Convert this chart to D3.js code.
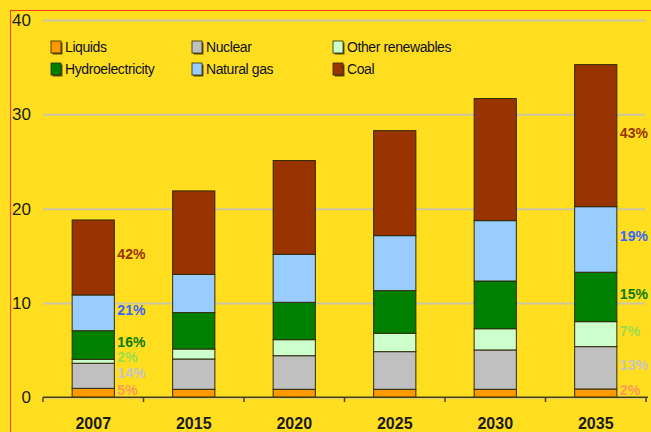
<!DOCTYPE html>
<html>
<head>
<meta charset="utf-8">
<script src="https://cdn.jsdelivr.net/npm/d3@7"></script>
<style>
  html, body { margin: 0; padding: 0; background: #fede1e; }
  svg { display: block; font-family: "Liberation Sans", Arial, sans-serif; }
</style>
</head>
<body>
<svg id="chart" width="651" height="432"></svg>
<script>
// data (0..40 scale)
const years = ["2007", "2015", "2020", "2025", "2030", "2035"];
const series = ["Liquids", "Nuclear", "Other renewables", "Hydroelectricity", "Natural gas", "Coal"];
const liquids = [0.95, 0.85, 0.85, 0.85, 0.85, 0.88];
const nuclear = [2.66, 3.21, 3.56, 3.99, 4.17, 4.49];
const otherRenewables = [0.42, 1.06, 1.70, 1.95, 2.25, 2.65];
const hydro = [3.03, 3.86, 3.96, 4.52, 5.06, 5.24];
const naturalGas = [3.79, 4.05, 5.09, 5.83, 6.40, 6.95];
const coal = [7.95, 8.85, 9.94, 11.13, 12.94, 15.06];
const share2007 = ["5%", "14%", "2%", "16%", "21%", "42%"];
const share2035 = ["2%", "13%", "7%", "15%", "19%", "43%"];
const yTicks = [0, 10, 20, 30, 40];

const colors = ["#ff9900", "#c0c0c0", "#ccffcc", "#008000", "#99ccff", "#993300"];
const labelColors = ["#ff9a5a", "#c6c6c6", "#9edc4a", "#0a7a0a", "#3366ff", "#993300"];

const values = [liquids, nuclear, otherRenewables, hydro, naturalGas, coal];
const table = years.map((yr, i) => {
  const row = { year: yr };
  series.forEach((s, j) => row[s] = values[j][i]);
  return row;
});
const stacked = d3.stack().keys(series)(table);

const svg = d3.select("#chart");

// red frame
svg.append("rect")
  .attr("x", 10.5).attr("y", 10.5)
  .attr("width", 700).attr("height", 500)
  .attr("fill", "none").attr("stroke", "#ff3a10").attr("stroke-width", 1);

const x = d3.scaleBand().domain(years).range([43, 646])
  .paddingInner(0.58).paddingOuter(0.29);
const y = d3.scaleLinear().domain([0, 40]).range([397.3, 20]);

// gridlines + y labels
const yAxis = svg.append("g")
  .attr("transform", "translate(43,0)")
  .call(d3.axisLeft(y).tickValues(yTicks).tickSize(-602).tickPadding(12));
yAxis.select(".domain").remove();
yAxis.selectAll(".tick line").attr("stroke", "#cdc6a4").attr("stroke-width", 2);
yAxis.selectAll(".tick text")
  .attr("fill", "#1a1a10").attr("font-size", 17)
  .style("font-family", "Liberation Sans, Arial, sans-serif");

// bars
const layers = svg.append("g").selectAll("g").data(stacked).join("g")
  .attr("fill", (d, i) => colors[i]);
layers.selectAll("rect").data(d => d).join("rect")
  .attr("x", d => x(d.data.year))
  .attr("y", d => y(d[1]))
  .attr("width", x.bandwidth())
  .attr("height", d => y(d[0]) - y(d[1]))
  .attr("stroke", "#2e2a08").attr("stroke-width", 1);

// x axis line and ticks at band edges
const step = x.step();
const edge0 = x(years[0]) - step * x.paddingInner() / 2;
svg.append("line")
  .attr("x1", 43).attr("x2", 648).attr("y1", 397.3).attr("y2", 397.3)
  .attr("stroke", "#4a4208").attr("stroke-width", 1.5);
svg.append("g").selectAll("line").data(d3.range(years.length + 1)).join("line")
  .attr("x1", i => edge0 + i * step).attr("x2", i => edge0 + i * step)
  .attr("y1", 397.3).attr("y2", 402)
  .attr("stroke", "#4a4208").attr("stroke-width", 1.5);

svg.append("g").selectAll("text").data(years).join("text")
  .attr("x", d => x(d) + x.bandwidth() / 2)
  .attr("y", 429)
  .attr("text-anchor", "middle")
  .attr("font-size", 16).attr("font-weight", "bold")
  .attr("fill", "#1a1a20")
  .text(d => d);

// share labels for the first and last year, pushed apart so they don't collide
function shareLabels(idx, labels) {
  const yr = years[idx];
  const tx = x(yr) + x.bandwidth() + 3;
  const pos = [];
  stacked.forEach((layer, j) => {
    const seg = layer[idx];
    let ty = (y(seg[0]) + y(seg[1])) / 2 - 3;
    if (j > 0) ty = Math.min(ty, pos[j - 1] - 15.5);
    pos.push(ty);
  });
  svg.append("g").selectAll("text").data(labels).join("text")
    .attr("x", tx).attr("y", (d, j) => pos[j]).attr("dy", "0.35em")
    .attr("font-size", 14).attr("font-weight", "bold")
    .attr("fill", (d, j) => labelColors[j])
    .text(d => d);
}
shareLabels(0, share2007);
shareLabels(years.length - 1, share2035);

// legend
const legendOrder = [0, 1, 2, 3, 4, 5];
const legend = svg.append("g").selectAll("g").data(legendOrder).join("g")
  .attr("transform", (d, i) => `translate(${51 + (i % 3) * 141},${i < 3 ? 41 : 63})`);
legend.append("rect")
  .attr("x", 1.5).attr("y", 1.5).attr("width", 10).attr("height", 12)
  .attr("fill", "#5c5008");
legend.append("rect")
  .attr("x", 0).attr("y", 0).attr("width", 10).attr("height", 12)
  .attr("fill", d => colors[d]).attr("stroke", "#2e2a08").attr("stroke-width", 0.8);
legend.append("text")
  .attr("x", 14).attr("y", 6).attr("dy", "0.35em")
  .attr("font-size", 14).attr("letter-spacing", "-0.4px")
  .attr("fill", "#10102a")
  .text(d => series[d]);
</script>
</body>
</html>
